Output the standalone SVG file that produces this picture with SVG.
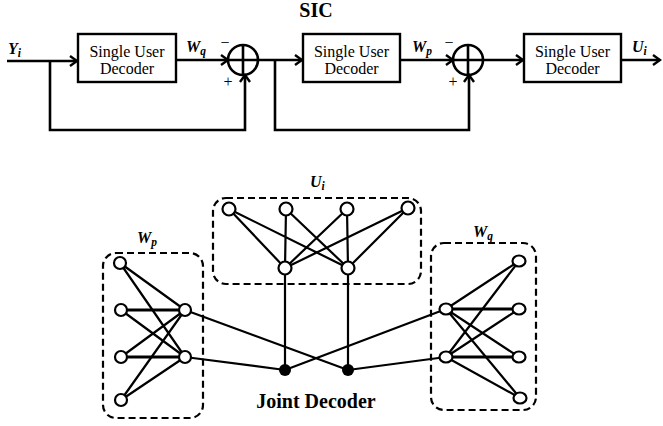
<svg xmlns="http://www.w3.org/2000/svg" width="663" height="426" viewBox="0 0 663 426">
<style>
.ln{stroke:#000;stroke-width:2.6;fill:none}
.bx{stroke:#000;stroke-width:2.4;fill:#fff}
.t{font-family:"Liberation Serif","Times New Roman",serif;font-size:16px;fill:#000;text-anchor:middle}
.lb{font-family:"Liberation Serif","Times New Roman",serif;font-weight:bold;font-style:italic;font-size:16px;fill:#000}
.sb{font-size:11.5px}
.e{stroke:#000;stroke-width:2.2;fill:none}
.h{stroke:#000;stroke-width:3;fill:none}
.n{stroke:#000;stroke-width:2.2;fill:#fff}
.d{stroke:#000;stroke-width:2.2;fill:none;stroke-dasharray:7 4}
.pm{font-family:"Liberation Serif","Times New Roman",serif;font-size:16px;fill:#000;text-anchor:middle}
</style>
<defs>
<marker id="ar" markerWidth="12" markerHeight="12" refX="10" refY="6" orient="auto" markerUnits="userSpaceOnUse">
<path d="M3,1 L10,6 L3,11" fill="none" stroke="#000" stroke-width="2.4"/>
</marker>
</defs>
<g id="title"><text x="316" y="17" font-family="Liberation Serif, serif" font-weight="bold" font-size="20" text-anchor="middle">SIC</text></g>
<g id="connectors">
<path class="ln" d="M7,61 H77" marker-end="url(#ar)"/>
<path class="ln" d="M176,60 H228" marker-end="url(#ar)"/>
<path class="ln" d="M50,61 V130 H245 V75" marker-end="url(#ar)"/>
<path class="ln" d="M258,60 H302" marker-end="url(#ar)"/>
<path class="ln" d="M275,60 V130 H469 V75" marker-end="url(#ar)"/>
<path class="ln" d="M400,60 H453" marker-end="url(#ar)"/>
<path class="ln" d="M483,60 H523" marker-end="url(#ar)"/>
<path class="ln" d="M621,60 H660" marker-end="url(#ar)"/>
</g>
<g id="label-yi"><text class="lb" x="8" y="54">Y<tspan class="sb" dy="3">i</tspan></text></g>
<g id="box1"><rect class="bx" x="78" y="34" width="98" height="48"/><text class="t" x="127" y="57">Single User</text><text class="t" x="127" y="74">Decoder</text></g>
<g id="label-wq"><text class="lb" x="186" y="52">W<tspan class="sb" dy="3">q</tspan></text></g>
<g id="sum1"><circle class="ln" cx="243" cy="60" r="15"/><path class="ln" d="M228,60 H258 M243,45 V75"/><text class="pm" x="225" y="48">−</text><text class="pm" x="228" y="87">+</text></g>
<g id="box2"><rect class="bx" x="303" y="34" width="97" height="48"/><text class="t" x="351.5" y="57">Single User</text><text class="t" x="351.5" y="74">Decoder</text></g>
<g id="label-wp"><text class="lb" x="412" y="52">W<tspan class="sb" dy="3">p</tspan></text></g>
<g id="sum2"><circle class="ln" cx="468" cy="60" r="15"/><path class="ln" d="M453,60 H483 M468,45 V75"/><text class="pm" x="449" y="48">−</text><text class="pm" x="453" y="87">+</text></g>
<g id="box3"><rect class="bx" x="524" y="34" width="97" height="48"/><text class="t" x="572.5" y="57">Single User</text><text class="t" x="572.5" y="74">Decoder</text></g>
<g id="label-ui"><text class="lb" x="632" y="52">U<tspan class="sb" dy="3">i</tspan></text></g>

<g id="edges">
<path class="e" d="M229,209 L285,268 M229,209 L348,268 M286,209 L285,268 M286,209 L348,268 M347,209 L285,268 M347,209 L348,268 M408,208 L285,268 M408,208 L348,268"/>
<path class="e" d="M285,268 V370 M348,268 V370"/>
<path class="e" d="M120,263 L185,310 M120,263 L185,357 M121,310 L185,357 M121,357 L185,310 M121,400 L185,310 M121,400 L185,357"/>
<path class="h" d="M121,310 L185,310 M121,357 L185,357"/>
<path class="e" d="M519,261 L446,309 M519,261 L446,357 M519,309 L446,357 M519,357 L446,309 M520,398 L446,309 M520,398 L446,357"/>
<path class="h" d="M519,309 L446,309 M519,357 L446,357"/>
<path class="e" d="M185,310 L348,370 M185,357 L285,370 M446,309 L285,370 M446,357 L348,370"/>
</g>
<g id="group-ui">
<rect class="d" x="213" y="198" width="208" height="86" rx="13"/>
<text class="lb" x="310" y="187">U<tspan class="sb" dy="3">i</tspan></text>
<circle class="n" cx="229" cy="209" r="6.5"/><circle class="n" cx="286" cy="209" r="6.5"/><circle class="n" cx="347" cy="209" r="6.5"/><circle class="n" cx="408" cy="208" r="6.5"/>
<circle class="n" cx="285" cy="268" r="6.5"/><circle class="n" cx="348" cy="268" r="6.5"/>
</g>
<g id="group-wp">
<rect class="d" x="103" y="253" width="100" height="165" rx="13"/>
<text class="lb" x="137" y="243">W<tspan class="sb" dy="3">p</tspan></text>
<circle class="n" cx="120" cy="263" r="6"/><circle class="n" cx="121" cy="310" r="6"/><circle class="n" cx="121" cy="357" r="6"/><circle class="n" cx="121" cy="400" r="6"/>
<circle class="n" cx="185" cy="310" r="6"/><circle class="n" cx="185" cy="357" r="6"/>
</g>
<g id="group-wq">
<rect class="d" x="431" y="243" width="105" height="167" rx="13"/>
<text class="lb" x="473" y="237">W<tspan class="sb" dy="3">q</tspan></text>
<ellipse class="n" cx="519" cy="261" rx="6.5" ry="5.5"/><ellipse class="n" cx="519" cy="309" rx="6.5" ry="5.5"/><ellipse class="n" cx="519" cy="357" rx="6.5" ry="5.5"/><ellipse class="n" cx="520" cy="398" rx="6.5" ry="5.5"/>
<ellipse class="n" cx="446" cy="309" rx="6.5" ry="5.5"/><ellipse class="n" cx="446" cy="357" rx="6.5" ry="5.5"/>
</g>
<g id="joint-decoder">
<circle cx="285" cy="370" r="6" fill="#000"/><circle cx="348" cy="370" r="6" fill="#000"/>
<text x="316" y="408" font-family="Liberation Serif, serif" font-weight="bold" font-size="20" text-anchor="middle">Joint Decoder</text>
</g>
</svg>
